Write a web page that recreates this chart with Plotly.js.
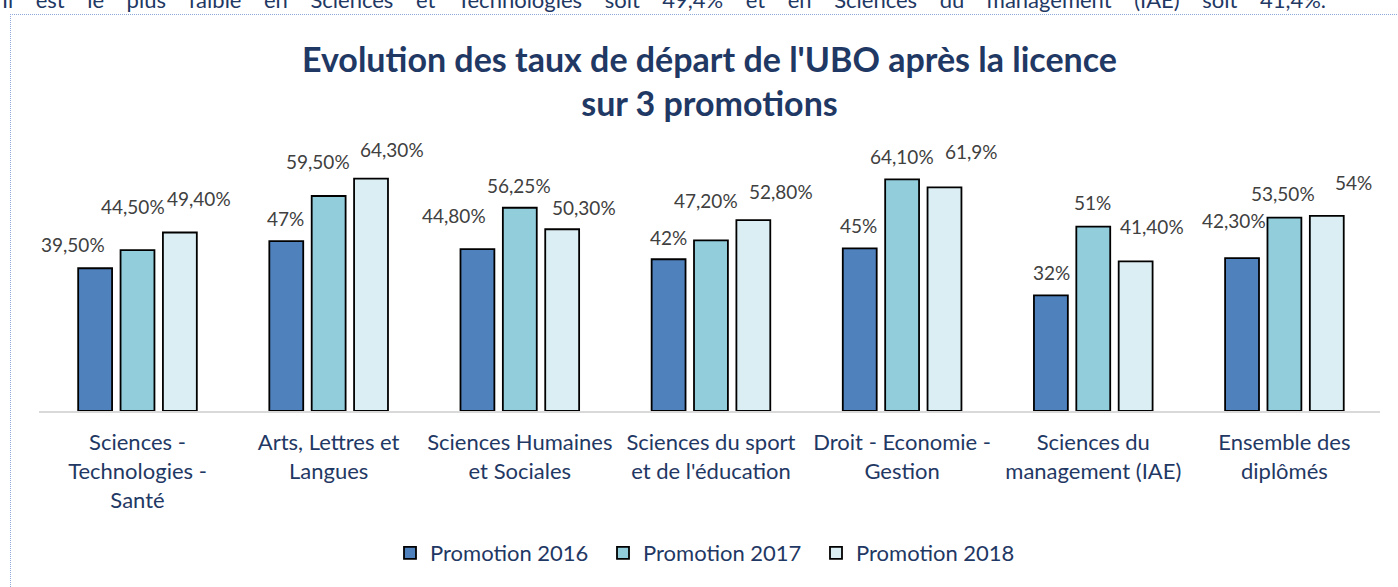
<!DOCTYPE html>
<html>
<head>
<meta charset="utf-8">
<script src="https://cdn.plot.ly/plotly-3.0.1.min.js"></script>
<style>
  html, body { margin: 0; padding: 0; background: #ffffff; overflow: hidden; }
  #wrap { position: relative; width: 1398px; height: 587px; }
  #chart { position: absolute; left: 0; top: 0; width: 1398px; height: 587px; }
  #frame { position: absolute; left: 10px; top: 14px; width: 1400px; height: 600px;
           border-top: 1px dotted #8eaadb; border-left: 1px dotted #8eaadb; pointer-events: none; }
</style>
</head>
<body>
<div id="wrap">
  <div id="chart"></div>
  <div id="frame"></div>
</div>
<script>
// ---- data ----
const categories = [
  "Sciences -<br>Technologies -<br>Santé",
  "Arts, Lettres et<br>Langues",
  "Sciences Humaines<br>et Sociales",
  "Sciences du sport<br>et de l'éducation",
  "Droit - Economie -<br>Gestion",
  "Sciences du<br>management (IAE)",
  "Ensemble des<br>diplômés"
];
const seriesNames = ["Promotion 2016", "Promotion 2017", "Promotion 2018"];
const promo2016 = [39.5, 47, 44.8, 42, 45, 32, 42.3];
const promo2017 = [44.5, 59.5, 56.25, 47.2, 64.1, 51, 53.5];
const promo2018 = [49.4, 64.3, 50.3, 52.8, 61.9, 41.4, 54];
const labels2016 = ["39,50%", "47%", "44,80%", "42%", "45%", "32%", "42,30%"];
const labels2017 = ["44,50%", "59,50%", "56,25%", "47,20%", "64,10%", "51%", "53,50%"];
const labels2018 = ["49,40%", "64,30%", "50,30%", "52,80%", "61,9%", "41,40%", "54%"];
const headerText = "Il est le plus faible en Sciences et Technologies soit 49,4% et en Sciences du management (IAE) soit 41,4%.";

// ---- styling / placement (not data) ----
const colors = ["#4f81bd", "#92cddc", "#dbeef3"];
const labelDx = [
  [-22, -1, -23, 0, -1, 1, -8],
  [-5, -11, -1, -5, 0, -1, -1],
  [19, 21, 22, 28, 27, 16, 27]
];
const labelDy = [
  [24, 23, 34, 22, 23, 23, 38],
  [44, 35, 22, 40, 23, 24, 24],
  [34, 29, 22, 29, 36, 35, 33]
];
const navy = "#1f3864";
const FONT = "Lato, 'Open Sans', sans-serif";

const values = [promo2016, promo2017, promo2018];
const labels = [labels2016, labels2017, labels2018];

const traces = values.map((v, i) => ({
  type: "bar",
  name: seriesNames[i],
  x: categories,
  y: v,
  marker: { color: colors[i], line: { color: "#000000", width: 1.8 } },
  hoverinfo: "skip"
}));

const M = { l: 39, r: 18, t: 140, b: 176 };
const plotH = 587 - M.t - M.b;

const annotations = [];
values.forEach((v, i) => {
  v.forEach((val, j) => {
    annotations.push({
      x: categories[j], y: val, xref: "x", yref: "y",
      text: labels[i][j], showarrow: false,
      xanchor: "center", yanchor: "middle",
      xshift: (i - 1) * 42.5 + labelDx[i][j],
      yshift: labelDy[i][j],
      font: { family: FONT, size: 19, color: "#404040" }
    });
  });
});
// cut-off body text above the chart frame
annotations.push({
  xref: "paper", yref: "paper",
  x: -M.l / 1341, y: 1 + M.t / plotH,
  xanchor: "left", yanchor: "middle",
  text: headerText.split(" ").join("\u00a0\u00a0\u00a0\u00a0"),
  showarrow: false,
  font: { family: FONT, size: 22, color: navy }
});

const layout = {
  width: 1398, height: 587,
  margin: M,
  paper_bgcolor: "rgba(0,0,0,0)",
  plot_bgcolor: "rgba(0,0,0,0)",
  barmode: "group",
  bargap: 0.335,
  bargroupgap: 0.2,
  showlegend: true,
  title: {
    text: "<b>Evolution des taux de départ de l'UBO après la licence<br>sur 3 promotions</b>",
    font: { family: FONT, size: 34, color: navy },
    xref: "paper", x: 0.5, xanchor: "center",
    yref: "container", y: 1 - 72 / 587, yanchor: "middle"
  },
  xaxis: {
    type: "category",
    showline: true, linecolor: "#d9d9d9", linewidth: 2,
    showgrid: false, zeroline: false,
    ticks: "", ticklabelstandoff: 11,
    tickfont: { family: FONT, size: 22, color: navy },
    fixedrange: true
  },
  yaxis: {
    range: [0, 75], visible: false, showgrid: false, zeroline: false, fixedrange: true
  },
  legend: {
    orientation: "h",
    x: 0.5, xanchor: "center",
    y: -(553 - 411) / plotH, yanchor: "middle",
    font: { family: FONT, size: 22, color: navy },
    entrywidth: 168, entrywidthmode: "pixels",
    traceorder: "normal"
  },
  annotations: annotations
};

Plotly.newPlot("chart", traces, layout, { displayModeBar: false, staticPlot: true });
</script>
</body>
</html>
